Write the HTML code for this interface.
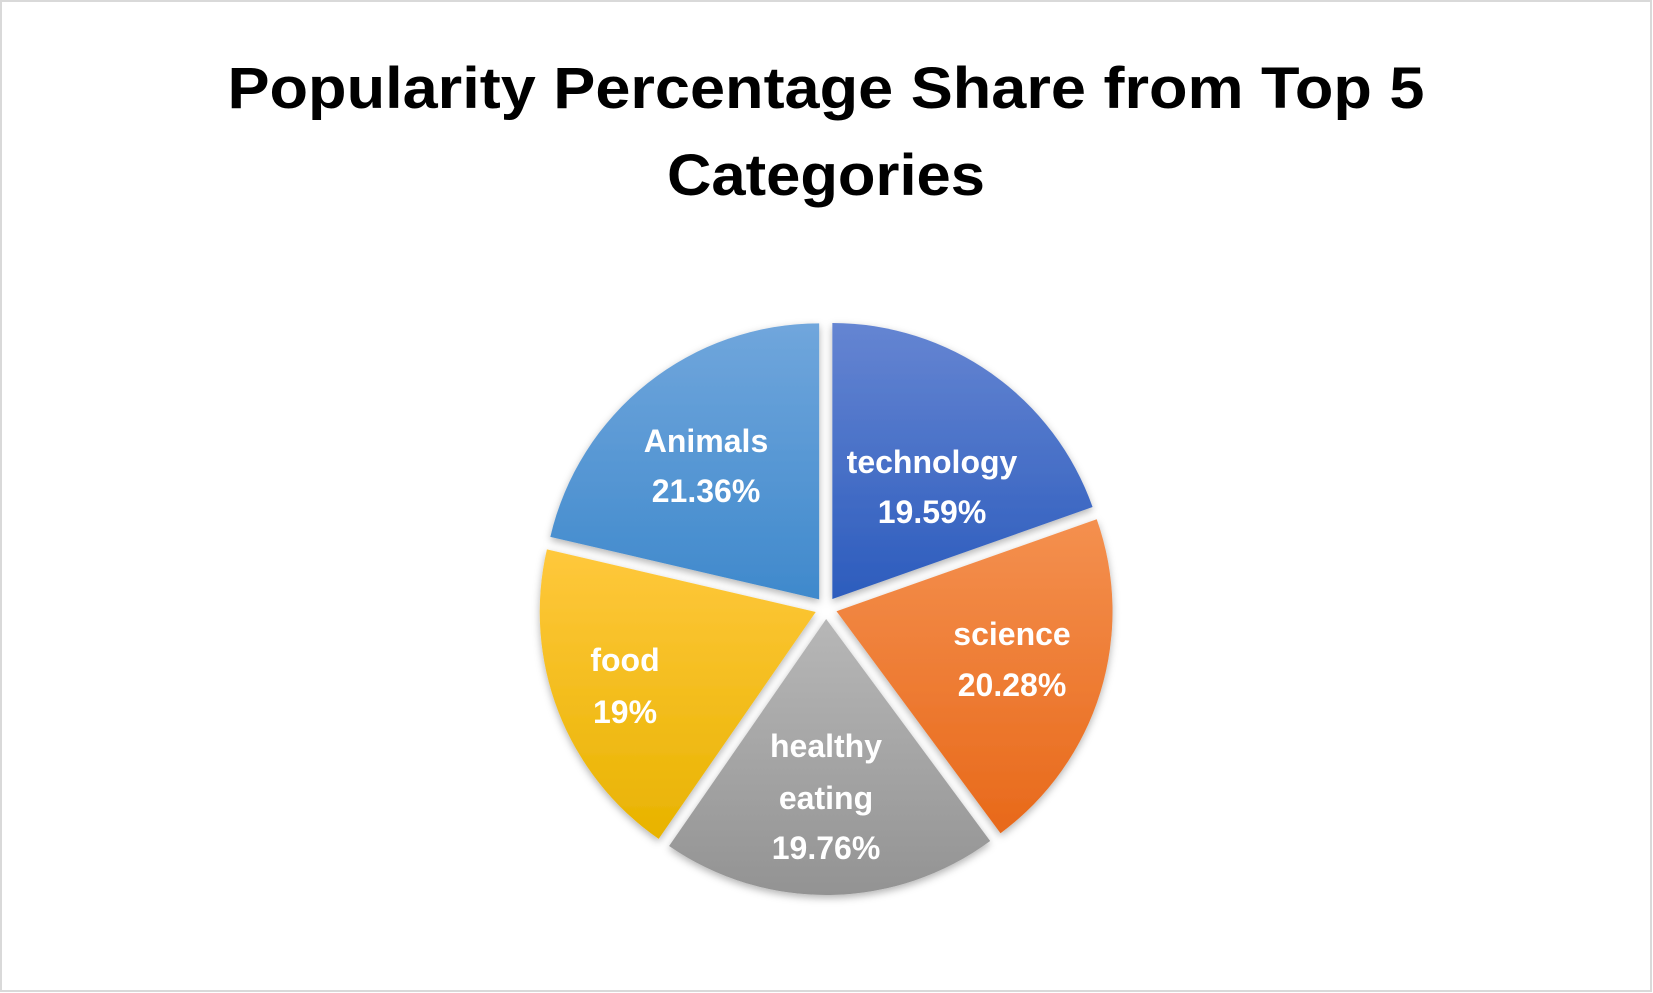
<!DOCTYPE html>
<html><head><meta charset="utf-8"><style>
html,body{margin:0;padding:0;background:#fff}
svg{display:block}
</style></head><body>
<svg width="1653" height="993" viewBox="0 0 1653 993" font-family="'Liberation Sans', sans-serif">
<defs>
<linearGradient id="g0" x1="0" y1="0" x2="0" y2="1"><stop offset="0" stop-color="#6585d2"/><stop offset="1" stop-color="#2c5cbd"/></linearGradient>
<linearGradient id="g1" x1="0" y1="0" x2="0" y2="1"><stop offset="0" stop-color="#f4904f"/><stop offset="1" stop-color="#e8691a"/></linearGradient>
<linearGradient id="g2" x1="0" y1="0" x2="0" y2="1"><stop offset="0" stop-color="#b7b7b7"/><stop offset="1" stop-color="#939393"/></linearGradient>
<linearGradient id="g3" x1="0" y1="0" x2="0" y2="1"><stop offset="0" stop-color="#ffc83c"/><stop offset="1" stop-color="#e8b300"/></linearGradient>
<linearGradient id="g4" x1="0" y1="0" x2="0" y2="1"><stop offset="0" stop-color="#70a6dc"/><stop offset="1" stop-color="#3f89cc"/></linearGradient>
<filter id="sh" x="-20%" y="-20%" width="140%" height="140%"><feDropShadow dx="0" dy="3" stdDeviation="4" flood-color="#000" flood-opacity="0.3"/></filter>
</defs>
<rect x="1" y="1" width="1650" height="990" fill="#fff" stroke="#d9d9d9" stroke-width="2"/>
<text x="826" y="108" text-anchor="middle" font-size="58" font-weight="bold" textLength="1197" lengthAdjust="spacingAndGlyphs">Popularity Percentage Share from Top 5</text>
<text x="826" y="195" text-anchor="middle" font-size="58" font-weight="bold" textLength="318" lengthAdjust="spacingAndGlyphs">Categories</text>
<g id="slices" filter="url(#sh)"></g>
<g id="labels" fill="#fff" font-size="32" font-weight="bold" text-anchor="middle">
<text x="706" y="441" dominant-baseline="central">Animals</text>
<text x="706" y="491" dominant-baseline="central">21.36%</text>
<text x="932" y="462" dominant-baseline="central">technology</text>
<text x="932" y="512" dominant-baseline="central">19.59%</text>
<text x="1012" y="634" dominant-baseline="central">science</text>
<text x="1012" y="685" dominant-baseline="central">20.28%</text>
<text x="826" y="746" dominant-baseline="central">healthy</text>
<text x="826" y="798" dominant-baseline="central">eating</text>
<text x="826" y="848" dominant-baseline="central">19.76%</text>
<text x="625" y="660" dominant-baseline="central">food</text>
<text x="625" y="712" dominant-baseline="central">19%</text>
</g>
</svg>
<script>
const categories = ["technology", "science", "healthy eating", "food", "Animals"];
const values = [19.59, 20.28, 19.76, 19, 21.36];
const fills = ["url(#g0)", "url(#g1)", "url(#g2)", "url(#g3)", "url(#g4)"];
const cx = 826, cy = 608, R = 276, explode = 11;
const total = values.reduce((a, b) => a + b, 0);
const g = document.getElementById('slices');
const NS = 'http://www.w3.org/2000/svg';
let acc = 0;
function pt(a, r, ox, oy) { return [ox + r * Math.sin(a), oy - r * Math.cos(a)]; }
values.forEach((v, i) => {
  const a0 = acc / total * 2 * Math.PI;
  acc += v;
  const a1 = acc / total * 2 * Math.PI;
  const mid = (a0 + a1) / 2;
  const ox = cx + explode * Math.sin(mid), oy = cy - explode * Math.cos(mid);
  const p0 = pt(a0, R, ox, oy), p1 = pt(a1, R, ox, oy);
  const large = (a1 - a0) > Math.PI ? 1 : 0;
  const path = document.createElementNS(NS, 'path');
  path.setAttribute('d', `M${ox},${oy} L${p0[0]},${p0[1]} A${R},${R} 0 ${large} 1 ${p1[0]},${p1[1]} Z`);
  path.setAttribute('fill', fills[i]);
  
  
  g.appendChild(path);
});
</script>
</body></html>
